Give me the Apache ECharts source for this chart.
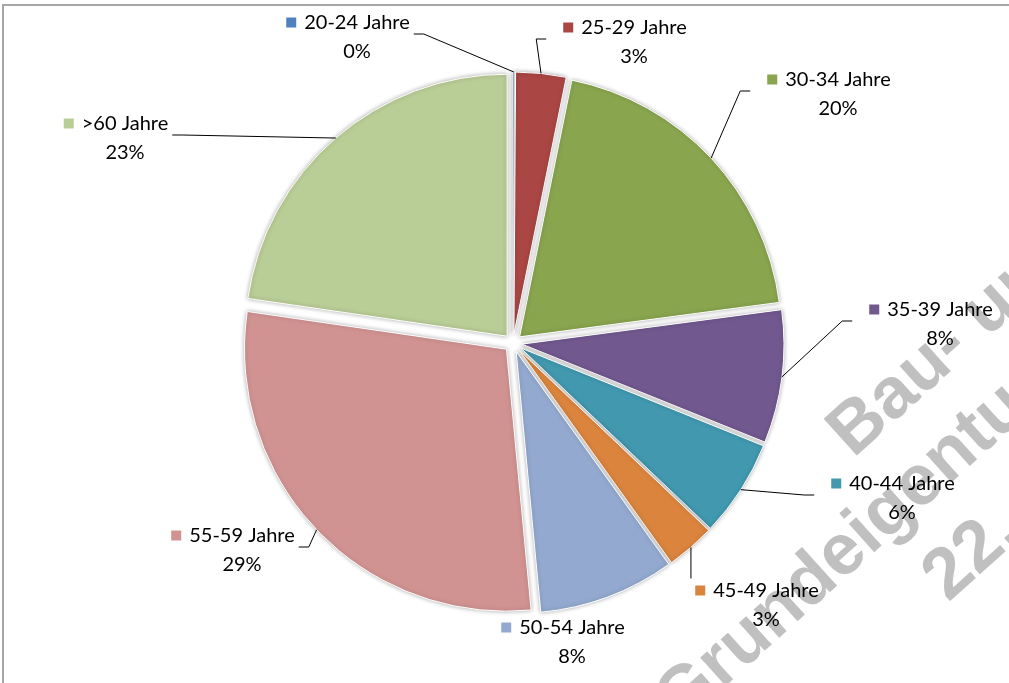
<!DOCTYPE html>
<html>
<head>
<meta charset="utf-8">
<script src="https://cdn.jsdelivr.net/npm/echarts@6/dist/echarts.min.js"></script>
<style>
  html, body { margin: 0; padding: 0; background: #fff; }
  #chart { width: 1009px; height: 683px; }
</style>
</head>
<body>
<div id="chart"></div>
<script>
// Altersstruktur, Anteile in Prozent
var categories = ['20-24 Jahre', '25-29 Jahre', '30-34 Jahre', '35-39 Jahre', '40-44 Jahre',
  '45-49 Jahre', '50-54 Jahre', '55-59 Jahre', '>60 Jahre'];
var shares = [0.1, 3.1, 19.7, 8.2, 6.0, 3.0, 8.4, 28.8, 22.7];
var colors = ['#4F81BD', '#AA4643', '#89A54E', '#71588F', '#4198AF',
  '#DB843D', '#93A9CF', '#D19392', '#B9CD96'];

// label placement (block centres) and where the leader line attaches
var labelAt = [[348, 37], [625, 42], [829, 94], [931, 324], [893, 498],
  [757, 605], [563, 642], [233, 550], [116, 138]];
var lineSide = ['right', 'left', 'left', 'left', 'left', 'top', 'none', 'right', 'right'];
var lineH = 29;
var pieCenter = [513, 343];
var pieRadius = 262;
var explode = 9;

var myChart = echarts.init(document.getElementById('chart'));

var rich = {
  n: { fontFamily: 'Lato', fontSize: 20, color: '#000', lineHeight: lineH, padding: [0, 0, 0, 8] },
  // left padding = marker + gap, so the percentage sits under the name
  p: { fontFamily: 'Lato', fontSize: 20, color: '#000', lineHeight: lineH, padding: [0, 0, 0, 18] }
};
colors.forEach(function (c, i) {
  rich['m' + i] = { width: 10, height: 10, backgroundColor: c, lineHeight: lineH };
});

// slices (all pulled out a little)
var pieData = categories.map(function (name, i) {
  return { name: name, value: shares[i], selected: true, itemStyle: { color: colors[i] } };
});
// same values again, only for the labels
var labelData = categories.map(function (name, i) {
  var item = { name: name, value: shares[i] };
  if (lineSide[i] === 'none') item.labelLine = { show: false };
  return item;
});

var option = {
  animation: false,
  backgroundColor: '#fff',
  graphic: [
    { type: 'rect', z: 0, shape: { x: 3, y: 5, width: 1100, height: 800 },
      style: { fill: 'none', stroke: '#a6a6a6', lineWidth: 2 } },
    { type: 'text', z: 1, x: 840, y: 444, rotation: 42 * Math.PI / 180,
      style: { text: 'Bau- und', font: 'bold 72px "Liberation Sans"', fill: '#c0c0c0',
        align: 'left', verticalAlign: 'middle' } },
    { type: 'text', z: 1, x: 667, y: 712, rotation: 42 * Math.PI / 180,
      style: { text: 'Grundeigentum', font: 'bold 72px "Liberation Sans"', fill: '#c0c0c0',
        align: 'left', verticalAlign: 'middle' } },
    { type: 'text', z: 1, x: 935, y: 588, rotation: 42 * Math.PI / 180,
      style: { text: '22.', font: 'bold 72px "Liberation Sans"', fill: '#c0c0c0',
        align: 'left', verticalAlign: 'middle' } }
  ],
  series: [
    {
      type: 'pie',
      z: 2,
      center: pieCenter,
      radius: pieRadius,
      startAngle: 90,
      clockwise: true,
      selectedMode: 'multiple',
      selectedOffset: explode,
      itemStyle: {
        borderColor: '#fff',
        borderWidth: 1,
        shadowBlur: 4,
        shadowColor: 'rgba(0,0,0,0.3)'
      },
      emphasis: { disabled: true },
      label: { show: false },
      labelLine: { show: false },
      data: pieData
    },
    {
      // invisible copy; its outer edge sits on the pulled-out arcs
      type: 'pie',
      z: 3,
      silent: true,
      center: pieCenter,
      radius: pieRadius + explode,
      startAngle: 90,
      clockwise: true,
      avoidLabelOverlap: false,
      itemStyle: { color: 'rgba(0,0,0,0)', borderWidth: 0 },
      emphasis: { disabled: true },
      label: {
        show: true,
        position: 'outside',
        rich: rich,
        formatter: function (p) {
          return '{m' + p.dataIndex + '| }{n|' + p.name + '}\n{p|' + Math.round(p.value) + '%}';
        }
      },
      labelLine: {
        show: true,
        length: 10,
        length2: 10,
        lineStyle: { color: '#000', width: 1 }
      },
      labelLayout: function (params) {
        var i = params.dataIndex;
        var pos = labelAt[i];
        var w = params.labelRect.width;
        var h = params.labelRect.height;
        var left = pos[0] - w / 2;
        var right = pos[0] + w / 2;
        var top = pos[1] - h / 2;
        var y1 = top + lineH / 2 + 7;
        var start = params.labelLinePoints ? params.labelLinePoints[0] : null;
        var res = { x: pos[0], y: pos[1], align: 'center', verticalAlign: 'middle' };
        if (start) {
          var side = lineSide[i];
          if (side === 'left') {
            res.labelLinePoints = [start, [left - 27, y1], [left - 17, y1]];
          } else if (side === 'right') {
            res.labelLinePoints = [start, [right + 14, y1], [right + 4, y1]];
          } else if (side === 'top') {
            res.labelLinePoints = [start, [start[0], top - 2], [start[0], top - 2]];
          }
        }
        return res;
      },
      data: labelData
    }
  ]
};
myChart.setOption(option);
</script>
</body>
</html>
